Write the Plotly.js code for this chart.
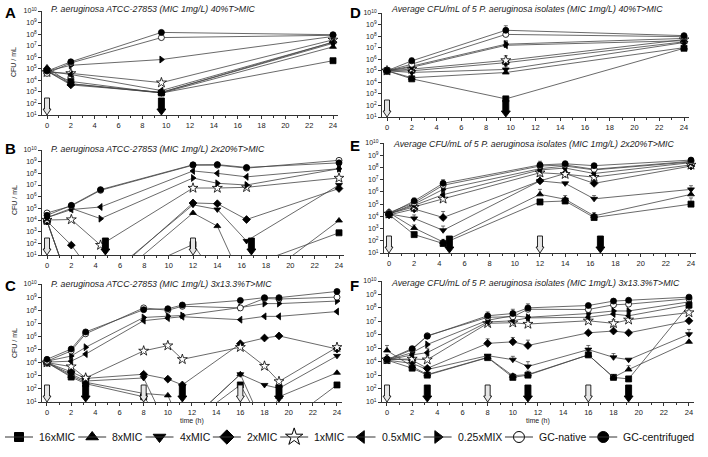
<!DOCTYPE html>
<html>
<head>
<meta charset="utf-8">
<script src="https://cdn.plot.ly/plotly-3.0.1.min.js"></script>
<style>
  html, body { margin: 0; padding: 0; background: #fff; }
  #chart { width: 708px; height: 457px; }
</style>
</head>
<body>
<div id="chart"></div>
<script>
// series order: 16x, 8x, 4x, 2x, 1x, 0.5x, 0.25x, GC-native, GC-centrifuged
var seriesNames = ['16xMIC', '8xMIC', '4xMIC', '2xMIC', '1xMIC', '0.5xMIC', '0.25xMIX', 'GC-native', 'GC-centrifuged'];

// ---- A: ATCC-27853, 40%T>MIC
var timeA = [0, 2, 9.6, 24];
var cfuA = [
    [6.3e4, 8e3, 8e2, 5e5],
    [1.3e5, 5e3, 8e2, 7.9e6],
    [6.3e4, 5e3, 9e2, 1.6e7],
    [6.3e4, 4e3, 9e2, 2e7],
    [5e4, 4e4, 6.3e3, 3.2e7],
    [6.3e4, 3.2e4, 1.3e3, 2e7],
    [6.3e4, 2e5, 6.3e5, 6.3e7],
    [4e4, 3.2e5, 5e7, 7.9e7],
    [6.3e4, 4e5, 1.4e8, 8.9e7]
];

// ---- B: ATCC-27853, 2x20%T>MIC
var timeB = [0, 2, 4.4, 12, 14, 16.4, 24];
var cfuB = [
    [8e3, 0.01, 0.02, 80, 0.1, 1, 800],
    [8e3, 0.01, 0.008, 4e4, 3e3, 0.01, 9e3],
    [8e3, 0.01, 0.05, 2e5, 8e4, 160, 1e7],
    [8e3, 70, 0.03, 2.9e5, 2.5e5, 1.1e4, 5e6],
    [1e4, 1.1e4, 70, 5.5e6, 5.5e6, 6.3e6, 4e7],
    [1.6e4, 7.9e4, 1.3e5, 1.6e8, 1e8, 5e7, 2.5e8],
    [1.6e4, 1e5, 1.3e4, 4e7, 1.4e7, 1e7, 2.5e8],
    [4e4, 1.6e5, 3.5e6, 5e8, 5e8, 2.8e8, 1.3e9],
    [2.5e4, 1.8e5, 4e6, 5.4e8, 5.6e8, 3.2e8, 7.9e8]
];

// ---- C: ATCC-27853, 3x13.3%T>MIC
var timeC = [0, 2, 3.2, 8, 10, 11.2, 16, 18, 19.2, 24];
var cfuC = [
    [1e4, 800, 250, 25, 0.1, 0.1, 200, 0.1, 0.1, 200],
    [1e4, 1e3, 320, 45, 32, 0.1, 1.3e3, 0.1, 25, 1.7e3],
    [1e4, 1.3e3, 400, 680, 0.1, 0.1, 1.3e3, 200, 110, 3.3e4],
    [1e4, 2e3, 630, 1.3e3, 560, 200, 2.8e5, 7.6e5, 1.1e6, 1.1e5],
    [1e4, 5e3, 680, 7.9e4, 2e5, 1.8e4, 1.5e5, 5.5e3, 370, 1.5e5],
    [1.1e4, 1.3e4, 4.5e4, 1.6e7, 2.5e7, 3.2e7, 1.9e7, 3.4e7, 3.4e7, 7.9e7],
    [1.3e4, 3.2e4, 1.5e5, 2.8e7, 3.5e7, 4e7, 1.6e8, 3.2e8, 3.2e8, 5e8],
    [1.3e4, 7.9e4, 1.6e6, 1.5e8, 1e8, 2e8, 1.5e8, 7.9e8, 7.1e8, 1e9],
    [1.8e4, 1.1e5, 2.2e6, 1.1e8, 1.3e8, 2.5e8, 5.6e8, 9.1e8, 9.1e8, 2.7e9]
];

// ---- D: average of 5 isolates, 40%T>MIC
var timeD = [0, 2, 9.6, 24];
var cfuD = [
    [1e5, 2e4, 3.7e2, 8.9e6],
    [1e5, 2.5e4, 7.1e4, 1e7],
    [1e5, 7.2e4, 1.3e5, 2.8e7],
    [1e5, 1e5, 5e5, 3.2e7],
    [1e5, 1.4e5, 7.9e5, 5e7],
    [1e5, 2e5, 1.6e7, 4e7],
    [1e5, 2.5e5, 2e7, 6.3e7],
    [1e5, 3.7e5, 1.4e8, 8.9e7],
    [1e5, 7.2e5, 3.2e8, 1.1e8]
];
// upper end of the error bar (null = none visible)
var capD = [
    [null, null, null, null],
    [null, 3.2e4, 1.6e5, null],
    [null, null, 2.5e5, null],
    [null, 1.6e5, 7.9e5, null],
    [null, 2.5e5, 2e6, null],
    [null, 3.2e5, 4e7, 6.3e7],
    [null, 4e5, 3.2e7, null],
    [null, 6.3e5, 2e8, null],
    [1.3e5, 1.3e6, 7.9e8, 1.4e8]
];

// ---- E: average of 5 isolates, 2x20%T>MIC
var timeE = [0, 2, 4.3, 12, 14, 16.3, 24];
var cfuE = [
    [1.4e4, 320, 60, 1.5e5, 1.8e5, 8e3, 1e5],
    [2e4, 1.1e3, 80, 6.3e5, 2.5e5, 1.1e4, 6.3e5],
    [1.6e4, 6.8e3, 720, 7.9e6, 5e6, 2.7e5, 1.6e6],
    [1.3e4, 4e4, 8e3, 7.9e6, 3.2e7, 5e6, 1.3e8],
    [1.6e4, 5.6e4, 2.7e5, 3.7e7, 2.8e7, 1.6e7, 1.6e8],
    [1.6e4, 7.9e4, 5.9e5, 6.3e7, 8.9e7, 3.2e7, 2.5e8],
    [1.6e4, 1e5, 1.6e6, 7.9e7, 1.3e8, 6.3e7, 2.8e8],
    [2e4, 1.3e5, 3.5e6, 1.3e8, 1.6e8, 7.1e7, 3.2e8],
    [1.6e4, 1.8e5, 5e6, 1.6e8, 2e8, 1.4e8, 4e8]
];
var capE = [
    [null, null, 1.3e2, null, null, 1.6e4, 3.2e5],
    [null, 2e3, null, 1.6e6, 5e5, 2e4, null],
    [3.2e4, 1.3e4, 1.6e3, 2e7, null, 5e5, 3.2e6],
    [null, null, 2.5e4, null, null, null, null],
    [null, null, 5e5, 1e8, null, null, null],
    [null, 1.6e5, null, null, null, null, null],
    [null, null, null, null, null, null, null],
    [null, null, null, null, null, 1.3e8, null],
    [3.2e4, 3.2e5, 1e7, 3.2e8, 3.2e8, 2e8, 5e8]
];

// ---- F: average of 5 isolates, 3x13.3%T>MIC
var timeF = [0, 2, 3.2, 8, 10, 11.2, 16, 18, 19.2, 24];
var cfuF = [
    [1.3e4, 3.3e3, 1e3, 2e4, 680, 1e3, 3.2e4, 680, 520, 1.6e8],
    [6.8e4, 4.4e3, 1.1e3, 2.1e4, 890, 1.1e3, 3.2e4, 680, 2.6e3, 3e5],
    [1.3e4, 7.4e3, 2.6e3, 2.8e4, 1.4e4, 4.4e3, 7.9e4, 2.1e4, 1.4e4, 1.1e6],
    [1.6e4, 1.3e4, 3.2e3, 2.3e5, 3e5, 1.6e5, 1.4e6, 1.9e6, 1.4e6, 1.1e7],
    [1.4e4, 1.6e4, 1.4e4, 7.1e6, 7.9e6, 6.3e6, 1.1e7, 7.1e6, 1.3e7, 4.5e7],
    [1.3e4, 3.2e4, 4.7e4, 8.9e6, 1.1e7, 1.8e7, 2e7, 3.5e7, 2.6e7, 1.7e8],
    [1.3e4, 4.7e4, 1.9e5, 1.2e7, 2.6e7, 2e7, 3.8e7, 5.9e7, 5.9e7, 2.8e8],
    [1.3e4, 7.9e4, 8.5e5, 2e7, 2.2e7, 7.9e7, 7.6e7, 1.7e8, 1.9e8, 4.8e8],
    [1.4e4, 9.3e4, 7.8e5, 2.6e7, 3.8e7, 1e8, 1.5e8, 3.2e8, 3.7e8, 6.3e8]
];
var capF = [
    [null, null, null, null, 1.3e3, 2e3, null, null, null, null],
    [1.6e5, null, null, null, null, null, null, null, 5e3, null],
    [null, null, null, null, 2.5e4, 1e4, 1.6e5, 4e4, null, 2.5e6],
    [null, null, null, 5e5, 6.3e5, 4e5, null, 4e6, null, null],
    [null, null, 3.2e4, null, null, null, null, 1.3e7, null, null],
    [null, null, 1e5, null, null, null, null, null, null, null],
    [null, null, null, null, null, null, null, null, null, null],
    [null, null, null, null, null, null, null, null, null, null],
    [3.2e4, 1.3e5, null, 5e7, 7.9e7, 2e8, null, null, null, null]
];

// grey band (CFU/mL), dosing start (open arrow) and end (black arrow) times
var bandA = [2e2, 7e4], bandB = [1.3e2, 7e4], bandC = [5e1, 1.3e4];
var bandD = [1.6e2, 7e4], bandE = [1.1e2, 2.8e4], bandF = [6e1, 1.1e4];
var doseOn1 = [0], doseOff1 = [9.6];
var doseOn2 = [0, 12], doseOff2 = [4.8, 16.8];
var doseOn3 = [0, 8, 16], doseOff3 = [3.2, 11.2, 19.2];

var titleA = 'P. aeruginosa ATCC-27853 (MIC 1mg/L) 40%T&gt;MIC';
var titleB = 'P. aeruginosa ATCC-27853 (MIC 1mg/L) 2x20%T&gt;MIC';
var titleC = 'P. aeruginosa ATCC-27853 (MIC 1mg/L) 3x13.3%T&gt;MIC';
var titleD = 'Average CFU/mL of 5 P. aeruginosa isolates (MIC 1mg/L) 40%T&gt;MIC';
var titleE = 'Average CFU/mL of 5 P. aeruginosa isolates (MIC 1mg/L) 2x20%T&gt;MIC';
var titleF = 'Average CFU/mL of 5 P. aeruginosa isolates (MIC 1mg/L) 3x13.3%T&gt;MIC';

var W = 708, H = 457;
var symbols = ['square', 'triangle-up', 'triangle-down', 'diamond', 'star', 'triangle-left', 'triangle-right', 'circle', 'circle'];
var fills = ['#000', '#000', '#000', '#000', '#fff', '#000', '#000', '#fff', '#000'];
var keySizes = [9, 11, 11, 11, 13, 11, 11, 11, 11];

// pixel boxes: x of t=0 and t=24, y of 10^10 and 10^1
var panels = [
    { letter: 'A', t: timeA, cfu: cfuA, band: bandA, on: doseOn1, off: doseOff1, title: titleA,
      box: { x0: 47, x24: 333, top: 11, bot: 115 }, titleY: 9, letterY: 12, ylab: 62 },
    { letter: 'B', t: timeB, cfu: cfuB, band: bandB, on: doseOn2, off: doseOff2, title: titleB,
      box: { x0: 47, x24: 339, top: 150, bot: 255 }, titleY: 149, letterY: 149, ylab: 200 },
    { letter: 'C', t: timeC, cfu: cfuC, band: bandC, on: doseOn3, off: doseOff3, title: titleC,
      box: { x0: 47, x24: 337, top: 284, bot: 402 }, titleY: 284, letterY: 285, ylab: 343 },
    { letter: 'D', t: timeD, cfu: cfuD, cap: capD, band: bandD, on: doseOn1, off: doseOff1, title: titleD,
      box: { x0: 387, x24: 684, top: 13, bot: 117 }, titleY: 9, letterY: 12 },
    { letter: 'E', t: timeE, cfu: cfuE, cap: capE, band: bandE, on: doseOn2, off: doseOff2, title: titleE,
      box: { x0: 389, x24: 691, top: 143, bot: 253 }, titleY: 144, letterY: 145 },
    { letter: 'F', t: timeF, cfu: cfuF, cap: capF, band: bandF, on: doseOn3, off: doseOff3, title: titleF,
      box: { x0: 387, x24: 689, top: 281, bot: 402 }, titleY: 283, letterY: 285 }
];

var font = 'Arial, "Liberation Sans", sans-serif';
var decades = [1, 2, 3, 4, 5, 6, 7, 8, 9, 10];
var yTickVals = decades.map(function (d) { return Math.pow(10, d); });
var yTickText = decades.map(function (d) { return '10<sup>' + d + '</sup>'; });

var openArrow = 'M -2.5 17 L 2.5 17 L 2.5 6 L 4 6 L 0 0 L -4 6 L -2.5 6 Z';
var blackArrow = 'M -3 17 L 3 17 L 3 6 L 4.5 6 L 0 0 L -4.5 6 L -3 6 Z';

var data = [];
var layout = {
    width: W, height: H,
    margin: { l: 0, r: 0, t: 0, b: 0 },
    paper_bgcolor: '#fff', plot_bgcolor: 'rgba(0,0,0,0)',
    font: { family: font, color: '#222' },
    showlegend: false,
    shapes: [],
    annotations: []
};

panels.forEach(function (p, i) {
    var n = i + 1;
    var xa = 'xaxis' + (n === 1 ? '' : n), ya = 'yaxis' + (n === 1 ? '' : n);
    var xr = 'x' + (n === 1 ? '' : n), yr = 'y' + (n === 1 ? '' : n);
    var b = p.box, pph = (b.x24 - b.x0) / 24;
    var left = b.x0 - 0.4 * pph, right = b.x24 + 0.4 * pph;
    var yDom = [1 - b.bot / H, 1 - b.top / H];

    layout[xa] = {
        domain: [left / W, right / W], range: [-0.4, 24.4], anchor: yr,
        tick0: 0, dtick: 2, ticks: 'outside', ticklen: 3, tickcolor: '#333',
        minor: { dtick: 1, ticks: 'outside', ticklen: 2, tickcolor: '#333' },
        showline: true, linecolor: '#333', linewidth: 1, showgrid: false, zeroline: false,
        tickfont: { size: 7.5, family: font, color: '#222' }, fixedrange: true
    };
    layout[ya] = {
        domain: yDom, type: 'log', range: [1, 10], anchor: xr,
        tickvals: yTickVals, ticktext: yTickText, ticks: 'outside', ticklen: 3, tickcolor: '#333',
        showline: true, linecolor: '#333', linewidth: 1, showgrid: false, zeroline: false,
        tickfont: { size: 7, family: font, color: '#222' }, fixedrange: true
    };

    layout.shapes.push({
        type: 'rect', xref: xr + ' domain', yref: yr, x0: 0, x1: 1,
        y0: Math.log10(p.band[0]), y1: Math.log10(p.band[1]),
        fillcolor: '#ececec', line: { width: 0 }, layer: 'below'
    });

    p.on.forEach(function (t) {
        layout.shapes.push({
            type: 'path', xref: xr, yref: 'paper', xsizemode: 'pixel', ysizemode: 'pixel',
            xanchor: t, yanchor: yDom[0], path: openArrow,
            fillcolor: '#e6e6e6', line: { color: '#111', width: 0.9 }, layer: 'above'
        });
    });
    p.off.forEach(function (t) {
        layout.shapes.push({
            type: 'path', xref: xr, yref: 'paper', xsizemode: 'pixel', ysizemode: 'pixel',
            xanchor: t, yanchor: yDom[0], path: blackArrow,
            fillcolor: '#000', line: { color: '#000', width: 0.9 }, layer: 'above'
        });
    });

    p.cfu.forEach(function (vals, s) {
        var trace = {
            x: p.t, y: vals, xaxis: xr, yaxis: yr, type: 'scatter', mode: 'lines+markers',
            name: seriesNames[s], cliponaxis: true,
            line: { color: '#444', width: 0.8 },
            marker: { symbol: symbols[s], size: s === 4 ? 7.5 : 6, color: fills[s],
                      line: { color: '#000', width: 0.8 } }
        };
        if (p.cap) {
            var up = p.cap[s];
            trace.error_y = {
                type: 'data', symmetric: false,
                array: vals.map(function (v, k) { return up[k] == null ? NaN : up[k] - v; }),
                arrayminus: vals.map(function () { return 0; }),
                color: '#333', thickness: 0.7, width: 2
            };
        }
        data.push(trace);
    });

    layout.annotations.push({
        text: '<b>' + p.letter + '</b>', xref: 'paper', yref: 'paper',
        x: (p.letter < 'D' ? 3 : 348) / W, y: 1 - p.letterY / H, xanchor: 'left', yanchor: 'middle',
        showarrow: false, font: { size: 15, family: font, color: '#000' }
    });
    layout.annotations.push({
        text: '<i>' + p.title + '</i>', xref: 'paper', yref: 'paper',
        x: (b.x0 + 2) / W, y: 1 - p.titleY / H, xanchor: 'left', yanchor: 'middle',
        showarrow: false, font: { size: 8.8, family: font, color: '#222' }
    });
    if (p.ylab) {
        layout.annotations.push({
            text: 'CFU / mL', xref: 'paper', yref: 'paper', textangle: -90,
            x: 14 / W, y: 1 - p.ylab / H, xanchor: 'center', yanchor: 'middle',
            showarrow: false, font: { size: 7, family: font, color: '#222' }
        });
    }
    if (p.letter === 'C' || p.letter === 'F') {
        layout.annotations.push({
            text: 'time (h)', xref: 'paper', yref: 'paper',
            x: ((b.x0 + b.x24) / 2) / W, y: 1 - 421 / H, xanchor: 'center', yanchor: 'middle',
            showarrow: false, font: { size: 7, family: font, color: '#222' }
        });
    }
});

// ---- key row under the panels: line stub + marker + label
var keyFont = 10.5, keyY = 437, keyStub = 28;
var ctx = document.createElement('canvas').getContext('2d');
ctx.font = keyFont + 'px Arial, "Liberation Sans", sans-serif';
layout.xaxis7 = { domain: [0, 1], range: [0, W], visible: false, fixedrange: true, anchor: 'y7' };
layout.yaxis7 = { domain: [0, 1], range: [H, 0], visible: false, fixedrange: true, anchor: 'x7' };
var kx = 5;
seriesNames.forEach(function (name, s) {
    layout.shapes.push({
        type: 'line', xref: 'x7', yref: 'y7', x0: kx, x1: kx + keyStub, y0: keyY, y1: keyY,
        line: { color: '#333', width: 1 }
    });
    data.push({
        x: [kx + keyStub / 2], y: [keyY], xaxis: 'x7', yaxis: 'y7', type: 'scatter', mode: 'markers',
        hoverinfo: 'skip', cliponaxis: false,
        marker: { symbol: symbols[s], size: keySizes[s], color: fills[s], line: { color: '#000', width: 1 } }
    });
    layout.annotations.push({
        text: name, xref: 'x7', yref: 'y7', x: kx + keyStub + 4, y: keyY,
        xanchor: 'left', yanchor: 'middle', showarrow: false,
        font: { size: keyFont, family: font, color: '#111' }
    });
    kx += keyStub + 4 + ctx.measureText(name).width + 5;
});

Plotly.newPlot('chart', data, layout, { displayModeBar: false, staticPlot: true });
</script>
</body>
</html>
